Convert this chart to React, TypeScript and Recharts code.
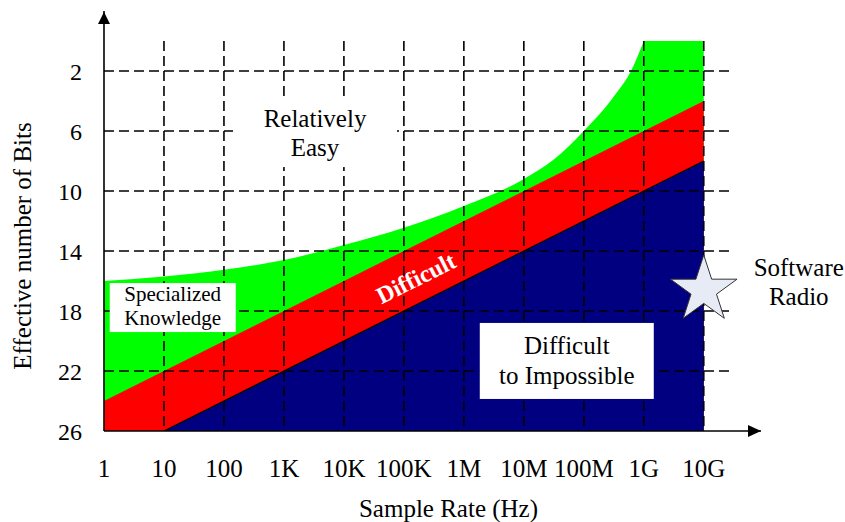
import {
  ComposedChart,
  Area,
  XAxis,
  YAxis,
  ReferenceLine,
  ReferenceDot,
  Label,
} from "recharts";

// sample rate ticks (Hz) and their labels
const rates = [1, 10, 100, 1e3, 1e4, 1e5, 1e6, 1e7, 1e8, 1e9, 1e10];
const rateLabels = ["1", "10", "100", "1K", "10K", "100K", "1M", "10M", "100M", "1G", "10G"];
const bitTicks = [2, 6, 10, 14, 18, 22, 26];
const gridBits = [2, 6, 10, 14, 18, 22];

// upper edge of the green ("specialized knowledge") region
const greenRates = [1, 10, 100, 1e3, 1e4, 1e5, 1e6, 1e7, 3.16e7, 1e8, 3.16e8, 6.3e8, 1e9];
const greenBits = [16.0, 15.7, 15.25, 14.6, 13.6, 12.45, 11.0, 9.2, 7.9, 6.0, 3.7, 1.9, 0];
const greenTopRates = [1e9, 1e10];
const greenTopBits = [0, 0];

// red ("difficult") and navy ("difficult to impossible") edges
const redRates = [1, 1e10];
const redBits = [24, 4];
const navyRates = [10, 1e10];
const navyBits = [26, 8];

// annotations
const noteLines = [
  ["Relatively", "Easy"],
  ["Specialized", "Knowledge"],
  ["Difficult", "to Impossible"],
];
const noteRates = [3.3e3, 14, 5.2e7];
const noteBits = [6.17, 17.77, 21.33];
const difficultRate = 1.58e5;
const difficultBits = 15.8;
const radioRate = 1e10;
const radioBits = 16.6;

const X_MAX = 9e10;
const H_GRID_END = 2.95e10;
const FONT = '"Liberation Serif", "Times New Roman", serif';

const zip = (xs: number[], ys: number[]) => xs.map((rate, i) => ({ rate, bits: ys[i] }));

const greenData = zip(greenRates, greenBits);
const greenTopData = zip(greenTopRates, greenTopBits);
const redData = zip(redRates, redBits);
const navyData = zip(navyRates, navyBits);

const boxStyles = [
  { w: 164, h: 67, size: 25, gap: 29, dy: -6.5 },
  { w: 126, h: 49, size: 21, gap: 24, dy: -6.5 },
  { w: 174, h: 76, size: 25, gap: 30, dy: -7 },
];

const noteShape = (i: number) => (p: any) => {
  const s = boxStyles[i];
  return (
    <g>
      <rect x={p.cx - s.w / 2} y={p.cy - s.h / 2} width={s.w} height={s.h} fill="#fff" />
      {noteLines[i].map((t, k) => (
        <text
          key={k}
          x={p.cx}
          y={p.cy + s.dy + k * s.gap}
          textAnchor="middle"
          fontSize={s.size}
          fontFamily={FONT}
          fill="#000"
        >
          {t}
        </text>
      ))}
    </g>
  );
};

const starShape = (p: any) => {
  const R = 35;
  const r = 13.4;
  const pts: string[] = [];
  for (let k = 0; k < 10; k++) {
    const a = -Math.PI / 2 + (k * Math.PI) / 5;
    const rad = k % 2 === 0 ? R : r;
    pts.push(`${p.cx + rad * Math.cos(a)},${p.cy + rad * Math.sin(a)}`);
  }
  return (
    <g>
      <polygon points={pts.join(" ")} fill="#e6ebf5" stroke="#333" strokeWidth={1} />
      <text x={p.cx + 95} y={p.cy - 14} textAnchor="middle" fontSize={25} fontFamily={FONT} fill="#000">
        Software
      </text>
      <text x={p.cx + 95} y={p.cy + 15} textAnchor="middle" fontSize={25} fontFamily={FONT} fill="#000">
        Radio
      </text>
    </g>
  );
};

const difficultShape = (p: any) => (
  <text
    x={p.cx}
    y={p.cy}
    dy="0.35em"
    textAnchor="middle"
    fontSize={24}
    fontWeight="bold"
    fontFamily={FONT}
    fill="#fff"
    transform={`rotate(-26.6 ${p.cx} ${p.cy})`}
  >
    Difficult
  </text>
);

const upArrow = (p: any) => (
  <polygon points={`${p.cx},${p.cy + 1} ${p.cx - 6},${p.cy + 13} ${p.cx + 6},${p.cy + 13}`} fill="#000" />
);
const rightArrow = (p: any) => (
  <polygon points={`${p.cx},${p.cy} ${p.cx - 13},${p.cy - 6} ${p.cx - 13},${p.cy + 6}`} fill="#000" />
);

export default function App() {
  const xTickStyle = { fill: "#000", fontSize: 25, fontFamily: FONT };
  const yTickStyle = { fill: "#000", fontSize: 24, fontFamily: FONT };
  return (
    <div style={{ position: "absolute", left: 0, top: 0, fontFamily: FONT }}>
      <ComposedChart width={845} height={522} margin={{ top: 11, right: 84, bottom: 0, left: 0 }}>
        <XAxis
          dataKey="rate"
          type="number"
          scale="log"
          domain={[1, X_MAX]}
          allowDataOverflow
          ticks={rates}
          interval={0}
          tickFormatter={(v: number) => rateLabels[rates.indexOf(v)] ?? ""}
          tickLine={false}
          tickSize={26}
          tickMargin={2}
          tick={xTickStyle}
          height={91}
          axisLine={{ stroke: "#000", strokeWidth: 1.6 }}
        >
          <Label
            content={(props: any) => {
              const vb = props.viewBox;
              return (
                <text
                  x={vb.x + vb.width / 2 + 16}
                  y={vb.y + vb.height - 5}
                  textAnchor="middle"
                  fontSize={25}
                  fontFamily={FONT}
                  fill="#000"
                >
                  Sample Rate (Hz)
                </text>
              );
            }}
          />
        </XAxis>
        <YAxis
          type="number"
          domain={[-2, 26]}
          reversed
          allowDataOverflow
          ticks={bitTicks}
          interval={0}
          tickLine={false}
          tickSize={20}
          tickMargin={2}
          tick={yTickStyle}
          width={104}
          axisLine={{ stroke: "#000", strokeWidth: 1.6 }}
        >
          <Label
            content={(props: any) => {
              const vb = props.viewBox;
              const x = vb.x + 31;
              const y = vb.y + vb.height / 2 + 25;
              return (
                <text
                  x={x}
                  y={y}
                  textAnchor="middle"
                  fontSize={25}
                  fontFamily={FONT}
                  fill="#000"
                  transform={`rotate(-90 ${x} ${y})`}
                >
                  Effective number of Bits
                </text>
              );
            }}
          />
        </YAxis>

        <Area data={greenData} dataKey="bits" type="monotone" baseValue={26} fill="#00ff00" fillOpacity={1} stroke="none" isAnimationActive={false} />
        <Area data={greenTopData} dataKey="bits" type="linear" baseValue={26} fill="#00ff00" fillOpacity={1} stroke="none" isAnimationActive={false} />
        <Area data={redData} dataKey="bits" type="linear" baseValue={26} fill="#ff0000" fillOpacity={1} stroke="none" isAnimationActive={false} />
        <Area data={navyData} dataKey="bits" type="linear" baseValue={26} fill="#000080" fillOpacity={1} stroke="#000" strokeWidth={1.2} isAnimationActive={false} />

        {rates.slice(1).map((r) => (
          <ReferenceLine
            key={`v${r}`}
            segment={[{ x: r, y: 0 }, { x: r, y: 26 }]}
            stroke="#000"
            strokeWidth={1.6}
            strokeDasharray="10 5"
            ifOverflow="visible"
          />
        ))}
        {gridBits.map((b) => (
          <ReferenceLine
            key={`h${b}`}
            segment={[{ x: 1, y: b }, { x: H_GRID_END, y: b }]}
            stroke="#000"
            strokeWidth={1.6}
            strokeDasharray="10 5"
            ifOverflow="visible"
          />
        ))}

        {noteLines.map((_, i) => (
          <ReferenceDot key={`n${i}`} x={noteRates[i]} y={noteBits[i]} ifOverflow="visible" shape={noteShape(i)} />
        ))}
        <ReferenceDot x={difficultRate} y={difficultBits} ifOverflow="visible" shape={difficultShape} />
        <ReferenceDot x={radioRate} y={radioBits} ifOverflow="visible" shape={starShape} />
        <ReferenceDot x={1} y={-2} ifOverflow="visible" shape={upArrow} />
        <ReferenceDot x={X_MAX} y={26} ifOverflow="visible" shape={rightArrow} />
      </ComposedChart>
    </div>
  );
}
